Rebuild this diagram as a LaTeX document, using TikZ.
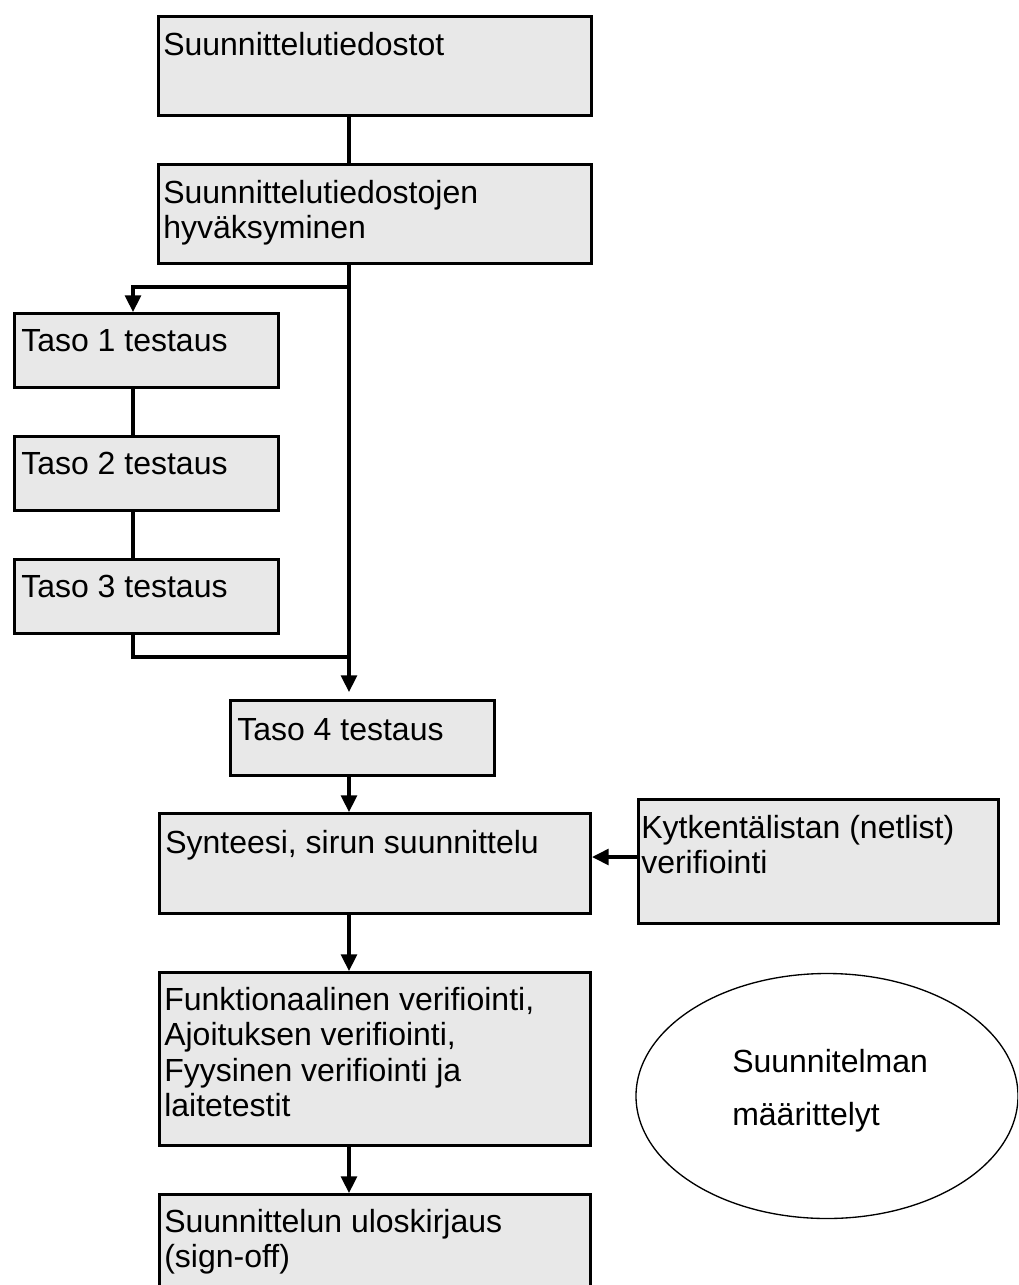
\documentclass[tikz,border=0pt]{standalone}
\usepackage{fontspec}
\setmainfont{Liberation Sans}
\usetikzlibrary{arrows.meta,shapes.geometric}
\definecolor{boxfill}{RGB}{232,232,232}
\tikzset{
  box/.style={draw=black, fill=boxfill, line width=2.3pt, rectangle, inner sep=0pt, anchor=north west},
  % multi-line labels are placed by the baseline of their last line
  label/.style={anchor=base west, inner sep=0pt, align=left,
    font=\fontsize{24}{26.6}\selectfont},
  wire/.style={line width=2.3pt, draw=black},
  arrow/.style={wire, -{Triangle[length=12.5pt,width=12pt]}},
}
\begin{document}
\begin{tikzpicture}[x=0.75pt, y=-0.75pt]
\useasboundingbox (0,0) rectangle (1018,1285);
\clip (0,0) rectangle (1018,1285);

% main column of process boxes
\node[box, minimum width=0.75*433pt, minimum height=0.75*99pt] (b1) at (157,15) {};
\node[box, minimum width=0.75*433pt, minimum height=0.75*99pt] (b2) at (157,163) {};
\node[box, minimum width=0.75*264pt, minimum height=0.75*74pt] (t1) at (13,312) {};
\node[box, minimum width=0.75*264pt, minimum height=0.75*74pt] (t2) at (13,435) {};
\node[box, minimum width=0.75*264pt, minimum height=0.75*74pt] (t3) at (13,558) {};
\node[box, minimum width=0.75*264pt, minimum height=0.75*75pt] (t4) at (229,699) {};
\node[box, minimum width=0.75*431pt, minimum height=0.75*100pt] (syn) at (158,812) {};
\node[box, minimum width=0.75*360pt, minimum height=0.75*124pt] (kyt) at (637,798) {};
\node[box, minimum width=0.75*431pt, minimum height=0.75*173pt] (fun) at (158,971) {};
\node[box, minimum width=0.75*431pt, minimum height=0.75*110pt] (sig) at (158,1193) {};

% box texts
\node[label] (l1) at (163,55) {Suunnittelutiedostot};
\node[label] (l2) at (163,238.5) {Suunnittelutiedostojen\\hyväksyminen};
\node[label] (l3) at (21,351) {Taso 1 testaus};
\node[label] (l4) at (21,474) {Taso 2 testaus};
\node[label] (l5) at (21,597) {Taso 3 testaus};
\node[label] (l6) at (237,740) {Taso 4 testaus};
\node[label] (l7) at (165,853) {Synteesi, sirun suunnittelu};
\node[label] (l8) at (641,873.5) {Kytkentälistan (netlist)\\verifiointi};
\node[label] (l9) at (164,1116.5) {Funktionaalinen verifiointi,\\Ajoituksen verifiointi,\\Fyysinen verifiointi ja\\laitetestit};
\node[label] (l10) at (164,1267.5) {Suunnittelun uloskirjaus\\(sign-off)};

% specification ellipse
\node[draw=black, line width=1pt, ellipse, minimum width=0.75*382pt, minimum height=0.75*245pt, inner sep=0pt] (spec) at (827,1096) {};
\node[label, font=\fontsize{24}{39.75}\selectfont] (l11) at (732,1125) {Suunnitelman\\määrittelyt};

% routing columns
\coordinate (spine) at (349,0);
\coordinate (lcol) at (133,0);
\coordinate (split) at (349,287);
\coordinate (merge) at (349,657);
\coordinate (t4in) at (349,692);

% connectors
\draw[wire] (b1.south -| spine) -- (b2.north -| spine);
\draw[wire] (b2.south -| spine) -- (split);
\draw[arrow] (split) -- (lcol |- split) -- (lcol |- t1.north);
\draw[arrow] (split) -- (t4in);
\draw[wire] (t1.south -| lcol) -- (t2.north -| lcol);
\draw[wire] (t2.south -| lcol) -- (t3.north -| lcol);
\draw[wire] (t3.south -| lcol) -- (lcol |- merge) -- (merge);
\draw[arrow] (t4.south -| spine) -- (syn.north -| spine);
\draw[arrow] (kyt.west |- 0,857) -- (syn.east |- 0,857);
\draw[arrow] (syn.south -| spine) -- (fun.north -| spine);
\draw[arrow] (fun.south -| spine) -- (sig.north -| spine);
\end{tikzpicture}
\end{document}
